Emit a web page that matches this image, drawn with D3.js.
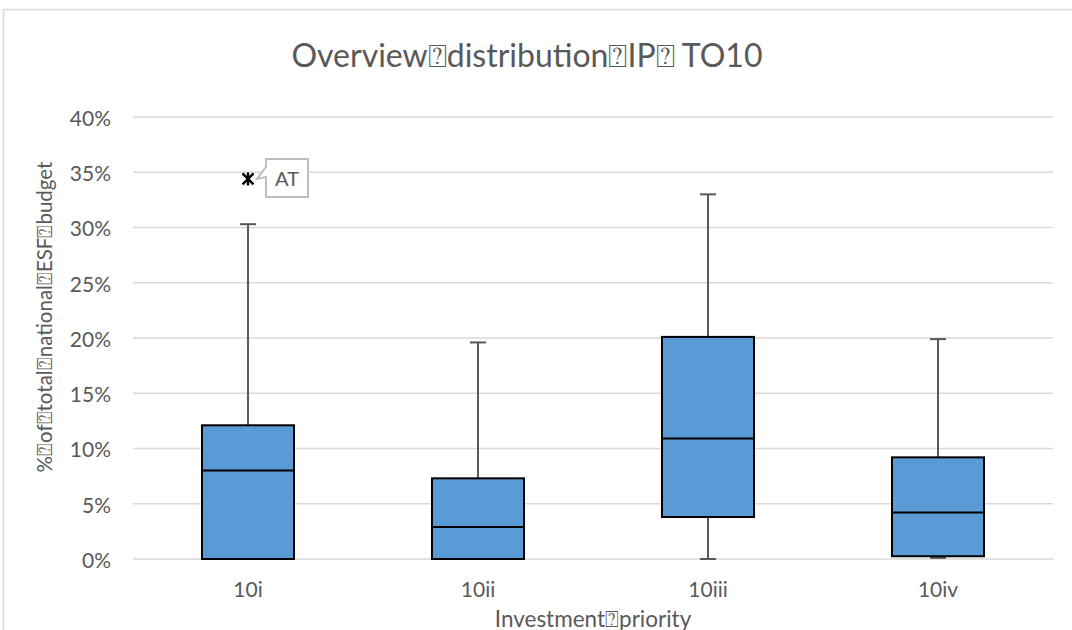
<!DOCTYPE html>
<html>
<head>
<meta charset="utf-8">
<script src="https://cdn.jsdelivr.net/npm/d3@7"></script>
<style>
  html, body { margin: 0; padding: 0; background: #fff; }
  svg { display: block; font-family: Lato, "Open Sans", "DejaVu Sans", sans-serif; }
</style>
</head>
<body>
<svg id="chart" width="1072" height="630"></svg>
<script>
// Investment priorities and their box-plot statistics (% of total national ESF budget)
const categories   = ["10i", "10ii", "10iii", "10iv"];
const whiskerLow   = [0.0, 0.0, 0.0, 0.1];
const quartile1    = [0.0, 0.0, 3.8, 0.25];
const medians      = [8.0, 2.9, 10.9, 4.2];
const quartile3    = [12.1, 7.3, 20.1, 9.2];
const whiskerHigh  = [30.3, 19.6, 33.0, 19.9];

// Outlying points with their country labels
const outlierCategory = ["10i"];
const outlierValue    = [34.4];
const outlierLabel    = ["AT"];

const yTicks = [0, 5, 10, 15, 20, 25, 30, 35, 40];

const titleText = "Overview\u2370distribution\u2370IP\u2370 TO10";
const yTitleText = "%\u2370of\u2370total\u2370national\u2370ESF\u2370budget";
const xTitleText = "Investment\u2370priority";

const svg = d3.select("#chart");
const W = 1072, H = 630;
const plot = { left: 133, right: 1053, top: 117, bottom: 559 };
const textColor = "#595959";
const labelFont = "21px";

// Chart frame
svg.append("path")
  .attr("d", `M3.5,${H} V9.5 H${W}`)
  .attr("fill", "none")
  .attr("stroke", "#d9d9d9")
  .attr("stroke-width", 1.5);

const x = d3.scaleBand().domain(categories).range([plot.left, plot.right]).padding(0);
const y = d3.scaleLinear().domain([0, 40]).range([plot.bottom, plot.top]);

// Gridlines
svg.append("g")
  .selectAll("line")
  .data(yTicks)
  .join("line")
  .attr("x1", plot.left).attr("x2", plot.right)
  .attr("y1", d => y(d)).attr("y2", d => y(d))
  .attr("stroke", "#d9d9d9")
  .attr("stroke-width", 1.5);

// Y axis labels
const yAxis = d3.axisLeft(y).tickValues(yTicks).tickFormat(d => d + "%").tickSize(0).tickPadding(22);
const yg = svg.append("g").attr("transform", `translate(${plot.left},0)`).call(yAxis);
yg.select(".domain").remove();
yg.selectAll("text")
  .attr("fill", textColor)
  .attr("dy", "0.4em")
  .style("font-size", labelFont)
  .style("font-family", "Lato, 'Open Sans', sans-serif");

// X axis labels
const xAxis = d3.axisBottom(x).tickSize(0).tickPadding(23);
const xg = svg.append("g").attr("transform", `translate(0,${plot.bottom})`).call(xAxis);
xg.select(".domain").remove();
xg.selectAll("text")
  .attr("fill", textColor)
  .style("font-size", labelFont)
  .style("font-family", "Lato, 'Open Sans', sans-serif");

const boxW = x.bandwidth() * 0.4;
const capW = 16;
const stats = categories.map((c, i) => ({
  c, lo: whiskerLow[i], q1: quartile1[i], med: medians[i], q3: quartile3[i], hi: whiskerHigh[i]
}));

const boxes = svg.append("g").selectAll("g").data(stats).join("g")
  .attr("transform", d => `translate(${x(d.c) + x.bandwidth() / 2},0)`);

// Upper whiskers and caps
boxes.append("line")
  .attr("x1", 0).attr("x2", 0)
  .attr("y1", d => y(d.q3)).attr("y2", d => y(d.hi))
  .attr("stroke", textColor).attr("stroke-width", 2);
boxes.append("line")
  .attr("x1", -capW / 2).attr("x2", capW / 2)
  .attr("y1", d => y(d.hi)).attr("y2", d => y(d.hi))
  .attr("stroke", textColor).attr("stroke-width", 2);

// Lower whiskers and caps
boxes.filter(d => d.q1 > d.lo).append("line")
  .attr("x1", 0).attr("x2", 0)
  .attr("y1", d => y(d.q1)).attr("y2", d => y(d.lo))
  .attr("stroke", textColor).attr("stroke-width", 2);
boxes.filter(d => d.q1 > d.lo).append("line")
  .attr("x1", -capW / 2).attr("x2", capW / 2)
  .attr("y1", d => y(d.lo)).attr("y2", d => y(d.lo))
  .attr("stroke", textColor).attr("stroke-width", 2);

// Interquartile boxes
boxes.append("rect")
  .attr("x", -boxW / 2)
  .attr("width", boxW)
  .attr("y", d => y(d.q3))
  .attr("height", d => y(d.q1) - y(d.q3))
  .attr("fill", "#5b9bd5")
  .attr("stroke", "#000")
  .attr("stroke-width", 2);

// Medians
boxes.append("line")
  .attr("x1", -boxW / 2).attr("x2", boxW / 2)
  .attr("y1", d => y(d.med)).attr("y2", d => y(d.med))
  .attr("stroke", "#000").attr("stroke-width", 2);

// Outliers with callout labels
outlierCategory.forEach((c, i) => {
  const cx = x(c) + x.bandwidth() / 2;
  const cy = y(outlierValue[i]);
  const g = svg.append("g");
  const s = 5.5;
  g.append("path")
    .attr("d", `M${cx - s},${cy - s}L${cx + s},${cy + s}M${cx - s},${cy + s}L${cx + s},${cy - s}M${cx},${cy - s - 1}L${cx},${cy + s + 1}`)
    .attr("stroke", "#000").attr("stroke-width", 2.4);
  const bx = cx + 18, by = cy - 20, bw = 42, bh = 38;
  g.append("path")
    .attr("d", `M${bx},${by} H${bx + bw} V${by + bh} H${bx} V${by + 18} L${cx + 9},${cy} L${bx},${by + 8} Z`)
    .attr("fill", "#fff")
    .attr("stroke", "#bfbfbf")
    .attr("stroke-width", 2);
  g.append("text")
    .attr("x", bx + bw / 2).attr("y", by + bh / 2 + 8)
    .attr("text-anchor", "middle")
    .attr("fill", textColor)
    .style("font-size", "20px")
    .text(outlierLabel[i]);
});

// Title
svg.append("text")
  .attr("x", 527).attr("y", 67)
  .attr("text-anchor", "middle")
  .attr("fill", textColor)
  .style("font-size", "32px")
  .text(titleText);

// Axis titles
svg.append("text")
  .attr("transform", `translate(52,317) rotate(-90)`)
  .attr("text-anchor", "middle")
  .attr("fill", textColor)
  .style("font-size", "20.5px")
  .text(yTitleText);

svg.append("text")
  .attr("x", (plot.left + plot.right) / 2).attr("y", 627)
  .attr("text-anchor", "middle")
  .attr("fill", textColor)
  .style("font-size", "22.5px")
  .text(xTitleText);
</script>
</body>
</html>
